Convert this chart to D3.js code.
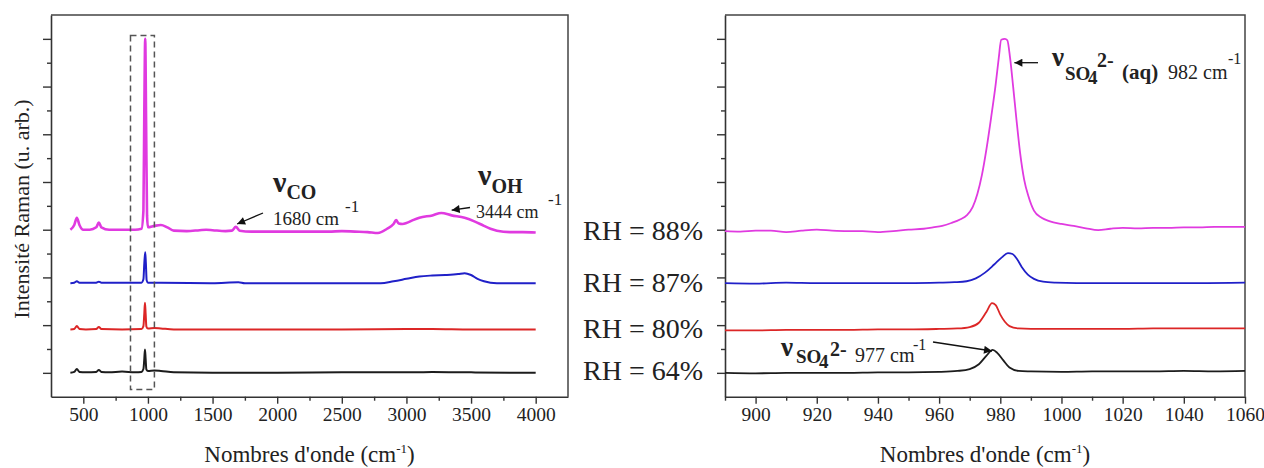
<!DOCTYPE html>
<html><head><meta charset="utf-8">
<script src="https://cdn.jsdelivr.net/npm/d3@7"></script>
<style>
body{margin:0;background:#fff}
svg{display:block}
svg text{font-family:'Liberation Serif','DejaVu Serif','Noto Serif','Times New Roman',Tinos,serif !important;fill:#222}
</style>
</head><body>
<svg id="c" width="1264" height="468" font-family="'Liberation Serif', 'DejaVu Serif', serif"></svg>
<script>
// ---------- DATA ----------
const leftTicks = [500,1000,1500,2000,2500,3000,3500,4000];
const leftMinor = [750,1250,1750,2250,2750,3250,3750];
const rightTicks = [900,920,940,960,980,1000,1020,1040,1060];
const rightMinor = [890,910,930,950,970,990,1010,1030,1050];
const yMajor = [0,1,2,3,4,5,6,7];
const yMinor = [0.5,1.5,2.5,3.5,4.5,5.5,6.5];
const rhLabels = ["RH = 88%","RH = 87%","RH = 80%","RH = 64%"];
const rhLevels = [3.0,1.9,0.95,0.05];

// Full spectra (wavenumber, offset intensity)
const fullBlack = [[400,0.0],[430,0.02],[450,0.08],[470,0.02],[520,0.01],[600,0.02],[620,0.06],[640,0.02],[700,0.01],[800,0.03],[900,0.01],[950,0.02],[965,0.08],[972,0.3],[977,0.49],[982,0.3],[988,0.07],[1000,0.04],[1050,0.05],[1100,0.04],[1200,0.01],[1500,0.0],[2000,0.0],[2500,0.01],[3000,0.01],[3200,0.02],[3500,0.01],[4000,0.0]];
const fullRed = [[400,0.91],[430,0.92],[450,0.98],[470,0.92],[520,0.91],[600,0.92],[620,0.96],[640,0.92],[800,0.91],[950,0.92],[965,0.98],[972,1.25],[977,1.47],[982,1.25],[988,0.97],[1000,0.93],[1050,0.94],[1100,0.93],[1200,0.91],[1500,0.91],[2000,0.91],[2500,0.91],[3000,0.92],[3200,0.92],[3500,0.91],[4000,0.91]];
const fullBlue = [[400,1.88],[430,1.89],[450,1.92],[470,1.89],[600,1.89],[620,1.91],[640,1.89],[950,1.89],[965,1.96],[972,2.3],[979,2.53],[984,2.3],[990,1.94],[1000,1.89],[1100,1.89],[1500,1.88],[1700,1.9],[1750,1.88],[2000,1.88],[2500,1.88],[2800,1.88],[2900,1.92],[3000,1.97],[3100,2.02],[3200,2.04],[3300,2.05],[3400,2.07],[3450,2.09],[3500,2.05],[3550,1.97],[3600,1.92],[3700,1.88],[4000,1.88]];
const fullMagenta = [[400,3.0],[430,3.1],[450,3.25],[470,3.1],[500,3.0],[550,3.0],[600,3.05],[620,3.15],[640,3.05],[700,3.0],[800,3.0],[900,3.0],[950,3.02],[965,3.4],[972,5.5],[979,7.0],[986,5.2],[993,3.3],[1000,3.05],[1050,3.08],[1100,3.1],[1150,3.05],[1200,2.98],[1300,2.97],[1400,2.99],[1450,3.0],[1500,2.99],[1600,2.97],[1650,2.98],[1680,3.06],[1710,2.98],[1800,2.96],[2000,2.96],[2200,2.96],[2400,2.96],[2500,2.97],[2600,2.96],[2700,2.95],[2780,2.93],[2850,3.02],[2900,3.12],[2920,3.2],[2940,3.13],[2970,3.12],[3000,3.14],[3050,3.2],[3100,3.25],[3200,3.3],[3270,3.35],[3350,3.3],[3450,3.25],[3530,3.17],[3600,3.08],[3650,3.02],[3700,2.98],[3800,2.95],[3900,2.95],[4000,2.94]];

// Zoomed spectra 890-1060 cm-1
const zoomMagenta = [[890,2.97],[895,2.96],[900,2.98],[905,2.98],[910,2.95],[915,2.98],[920,3.0],[925,2.98],[930,2.97],[935,2.97],[940,2.95],[945,2.97],[950,3.0],[955,3.02],[958,3.05],[961,3.08],[964,3.14],[967,3.22],[969,3.3],[971,3.48],[972.5,3.75],[974,4.15],[975.5,4.7],[977,5.35],[978.5,6.05],[979.5,6.6],[980.3,6.98],[981.5,7.0],[982.3,6.97],[983.2,6.6],[984.2,6.0],[985.3,5.3],[986.5,4.6],[987.8,4.05],[989.2,3.7],[991,3.4],[993.5,3.25],[996,3.18],[1000,3.12],[1004,3.08],[1008,3.03],[1012,2.99],[1016,3.02],[1020,3.04],[1025,3.03],[1030,3.04],[1035,3.04],[1040,3.05],[1045,3.05],[1050,3.06],[1055,3.06],[1060,3.06]];
const zoomBlue = [[890,1.88],[900,1.87],[910,1.89],[920,1.88],[930,1.88],[940,1.88],[950,1.88],[960,1.89],[965,1.9],[969,1.92],[972,1.98],[975,2.1],[978,2.27],[980.5,2.42],[982.5,2.51],[984,2.49],[985.5,2.38],[987,2.22],[989,2.06],[991,1.97],[994,1.91],[998,1.89],[1005,1.88],[1015,1.88],[1030,1.88],[1045,1.88],[1060,1.89]];
const zoomRed = [[890,0.89],[900,0.89],[910,0.9],[920,0.9],[930,0.9],[940,0.91],[950,0.91],[960,0.92],[966,0.93],[970,0.96],[973,1.05],[975.5,1.28],[977.3,1.46],[978.5,1.42],[980,1.22],[981.5,1.07],[983,0.98],[986,0.93],[990,0.92],[1000,0.92],[1010,0.92],[1020,0.92],[1030,0.93],[1040,0.93],[1050,0.93],[1060,0.93]];
const zoomBlack = [[890,0.0],[900,-0.01],[910,0.0],[920,0.0],[930,0.0],[940,0.01],[950,0.01],[960,0.02],[966,0.04],[970,0.08],[973,0.18],[975.5,0.36],[977.5,0.48],[979,0.42],[981,0.26],[983,0.11],[986,0.04],[990,0.03],[1000,0.02],[1010,0.03],[1020,0.03],[1030,0.03],[1040,0.04],[1050,0.03],[1060,0.04]];

const colors = {magenta:"#e03ae0", blue:"#2020c8", red:"#dc2626", black:"#1c1c1c"};
const dashBox = {x0:865, x1:1050, y0:-0.35, y1:7.07};
const FONT = "'Liberation Serif','DejaVu Serif','Noto Serif',serif";

// ---------- DRAWING ----------
const svg = d3.select("#c");
const defs = svg.append("defs");
defs.append("marker").attr("id","ah").attr("viewBox","0 0 10 10")
  .attr("refX",10).attr("refY",5).attr("markerWidth",9).attr("markerHeight",8)
  .attr("markerUnits","userSpaceOnUse").attr("orient","auto")
  .append("path").attr("d","M0,0L10,5L0,10z").attr("fill","#111");

const yS = d3.scaleLinear().domain([-0.5,7.5]).range([396.7,15]);
const xL = d3.scaleLinear().domain([250,4250]).range([51,568]);
const xR = d3.scaleLinear().domain([890,1060]).range([725,1245]);

function panel(x, majors, minors, series, lw){
  const g = svg.append("g");
  const [y0,y1] = yS.range();
  const [x0,x1] = x.range();
  g.append("path").attr("d",`M${x0},${y1}H${x1}V${y0}`).attr("fill","none").attr("stroke","#444").attr("stroke-width",1.5);
  g.append("g").attr("transform",`translate(0,${y0})`)
    .call(d3.axisBottom(x).tickValues(majors).tickSize(7).tickPadding(3).tickSizeOuter(0).tickFormat(d3.format("d")));
  g.append("g").attr("transform",`translate(0,${y0})`)
    .call(d3.axisBottom(x).tickValues(minors).tickSize(4).tickFormat("").tickSizeOuter(0))
    .select(".domain").remove();
  g.append("g").attr("transform",`translate(${x0},0)`)
    .call(d3.axisLeft(yS).tickValues(yMajor).tickSize(8).tickFormat("").tickSizeOuter(0));
  g.append("g").attr("transform",`translate(${x0},0)`)
    .call(d3.axisLeft(yS).tickValues(yMinor).tickSize(4).tickFormat("").tickSizeOuter(0))
    .select(".domain").remove();
  g.selectAll("g").attr("font-family",FONT);
  g.selectAll(".domain").attr("stroke","#333").attr("stroke-width",1.6);
  g.selectAll(".tick line").attr("stroke","#333").attr("stroke-width",1.4);
  g.selectAll(".tick text").attr("font-size",19.5).attr("fill","#222").style("font-family",FONT);
  const line = d3.line().x(d=>x(d[0])).y(d=>yS(d[1])).curve(d3.curveMonotoneX);
  series.forEach(s=>{
    g.append("path").datum(s.data).attr("d",line).attr("fill","none")
      .attr("stroke",s.color).attr("stroke-width",s.w||lw).attr("stroke-linejoin","round");
  });
  const t = g.append("text").attr("x",(x0+x1)/2).attr("y",462).attr("text-anchor","middle").attr("font-size",23).style("font-family",FONT);
  t.append("tspan").text("Nombres d'onde (cm");
  t.append("tspan").attr("font-size",13).attr("dy",-9).text("-1");
  t.append("tspan").attr("dy",9).text(")");
  return g;
}

panel(xL, leftTicks, leftMinor, [
  {data:fullBlack,color:colors.black},
  {data:fullRed,color:colors.red},
  {data:fullBlue,color:colors.blue},
  {data:fullMagenta,color:colors.magenta,w:2.6}
], 2);

panel(xR, rightTicks, rightMinor, [
  {data:zoomBlack,color:colors.black},
  {data:zoomRed,color:colors.red},
  {data:zoomBlue,color:colors.blue},
  {data:zoomMagenta,color:colors.magenta}
], 1.8);

svg.append("rect").attr("x",xL(dashBox.x0)).attr("y",yS(dashBox.y1))
  .attr("width",xL(dashBox.x1)-xL(dashBox.x0)).attr("height",yS(dashBox.y0)-yS(dashBox.y1))
  .attr("fill","none").attr("stroke","#555").attr("stroke-width",1.5).attr("stroke-dasharray","6,4");

svg.append("text").attr("transform","translate(29,209) rotate(-90)").attr("text-anchor","middle")
  .attr("font-size",22).style("font-family",FONT).text("Intensité Raman (u. arb.)");

svg.selectAll("text.rh").data(rhLabels).join("text").attr("class","rh")
  .attr("x",583).attr("y",(d,i)=>yS(rhLevels[i])+10).attr("font-size",28).style("font-family",FONT).text(d=>d);

function arrow(p0,p1){
  svg.append("line").attr("x1",p0[0]).attr("y1",p0[1]).attr("x2",p1[0]).attr("y2",p1[1])
    .attr("stroke","#111").attr("stroke-width",1.3).attr("marker-end","url(#ah)");
}
function txt(x,y,size){ return svg.append("text").attr("x",x).attr("y",y).attr("font-size",size).style("font-family",FONT); }
function part(t,x,y,size,bold,s){
  t.append("tspan").attr("x",x).attr("y",y).attr("font-size",size).attr("font-weight",bold?"bold":"normal").text(s);
}

// nu CO annotation
let t = txt(273,191.7,30);
t.append("tspan").attr("font-weight","bold").text("ν");
t.append("tspan").attr("font-size",20).attr("font-weight","bold").attr("dy",7).text("CO");
txt(345,212,17).text("-1");
txt(273,225,19).text("1680 cm");
arrow([263,213],[xL(1690),yS(3.12)]);

// nu OH annotation
t = txt(478,185,30);
t.append("tspan").attr("font-weight","bold").text("ν");
t.append("tspan").attr("font-size",20).attr("font-weight","bold").attr("dy",8).text("OH");
txt(548,205,17).text("-1");
txt(476,218,18).text("3444 cm");
arrow([470,207.5],[xL(3350),yS(3.41)]);

// nu SO4 (aq) annotation
t = txt(1052,66,26);
part(t,1052,66,27,true,"ν");
part(t,1065,80,19,true,"SO");
part(t,1088,84,19,true,"4");
part(t,1097,67,20,true,"2-");
part(t,1122,79,21,true,"(aq)");
part(t,1168,79,20,false,"982 cm");
part(t,1228,64,16,false,"-1");
arrow([1038,62.7],[xR(984.6),62.7]);

// nu SO4 977 annotation
t = txt(781,356,26);
part(t,781,356,27,true,"ν");
part(t,796,363,19,true,"SO");
part(t,819,368,19,true,"4");
part(t,830,356,20,true,"2-");
part(t,855,362,20,false,"977 cm");
part(t,913,350,16,false,"-1");
arrow([933,342],[xR(977.3),351]);
</script>
</body></html>
